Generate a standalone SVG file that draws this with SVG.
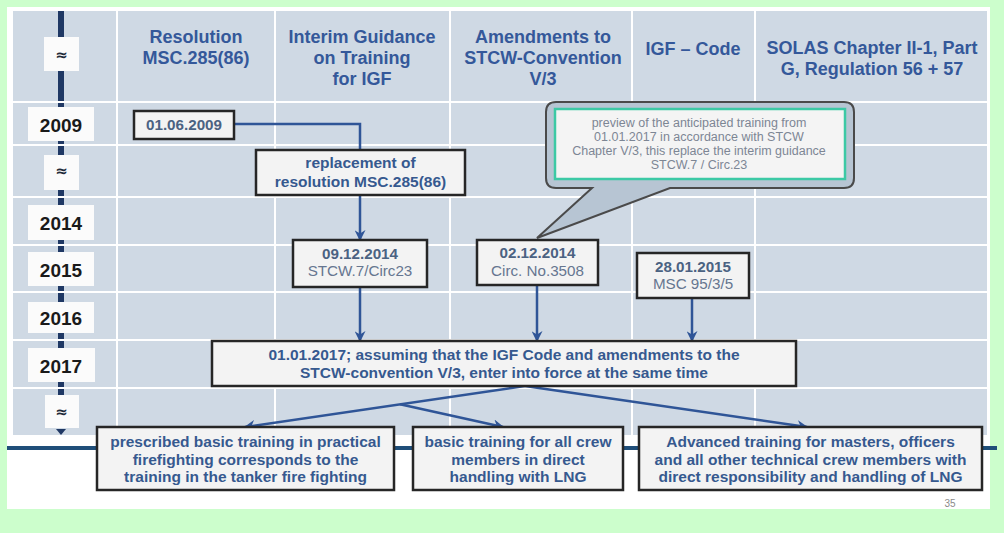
<svg xmlns="http://www.w3.org/2000/svg" width="1004" height="533" viewBox="0 0 1004 533">
<style>
text{font-family:"Liberation Sans",Arial,sans-serif;}
.hd{font-size:18px;font-weight:bold;fill:#34589a;text-anchor:middle;}
.yr{font-size:19px;font-weight:bold;fill:#1a1a1a;text-anchor:middle;}
.ap{font-family:"DejaVu Sans",sans-serif;font-size:15px;font-weight:bold;fill:#1f2a3a;text-anchor:middle;}
.ybox{fill:#fbfbfb;}
.grid{stroke:#ffffff;stroke-width:2;fill:none;}
.box{fill:#f3f3f3;stroke:#262626;stroke-width:2.5;}
.bt{font-size:15.5px;font-weight:bold;fill:#36598f;text-anchor:middle;}
.db{font-size:15.2px;font-weight:bold;fill:#4b6282;text-anchor:middle;}
.dr{font-size:15.2px;fill:#667690;text-anchor:middle;}
.ct{font-size:12.5px;fill:#7d8694;text-anchor:middle;}
.cn{stroke:#2f5597;stroke-width:2.5;fill:none;}
.ar{marker-end:url(#ah);}
</style>
<defs>
<marker id="ah" markerUnits="userSpaceOnUse" viewBox="0 0 10 10" markerWidth="11" markerHeight="11" refX="9" refY="5" orient="auto">
<path d="M0,0 L10,5 L0,10 L3,5 Z" fill="#2f5597"/>
</marker>
</defs>
<rect x="0" y="0" width="1004" height="533" fill="#ccfecc"/>
<rect x="7" y="7" width="983" height="502" fill="#ffffff"/>
<rect x="13" y="11" width="974" height="424" fill="#cfd9e4"/>
<g id="timeline">
<line x1="61" y1="11" x2="61" y2="428" stroke="#1f3864" stroke-width="6"/>
<path d="M56,429 L66,429 L61,435 Z" fill="#1f3864"/>
</g>
<g id="grid">
<line class="grid" x1="13" y1="102" x2="987" y2="102" stroke-width="4"/>
<line class="grid" x1="13" y1="145" x2="987" y2="145"/>
<line class="grid" x1="13" y1="197" x2="987" y2="197"/>
<line class="grid" x1="13" y1="245" x2="987" y2="245"/>
<line class="grid" x1="13" y1="292" x2="987" y2="292"/>
<line class="grid" x1="13" y1="340" x2="987" y2="340"/>
<line class="grid" x1="13" y1="388" x2="987" y2="388"/>
<line class="grid" x1="117" y1="11" x2="117" y2="435"/>
<line class="grid" x1="275" y1="11" x2="275" y2="435"/>
<line class="grid" x1="450" y1="11" x2="450" y2="435"/>
<line class="grid" x1="632" y1="11" x2="632" y2="435"/>
<line class="grid" x1="755" y1="11" x2="755" y2="435"/>
</g>
<g id="years">
<rect class="ybox" x="44" y="37" width="35" height="34"/><text class="ap" x="61.5" y="60">≈</text>
<rect class="ybox" x="28" y="107" width="66" height="34"/><text class="yr" x="61" y="132">2009</text>
<rect class="ybox" x="44" y="155" width="35" height="35"/><text class="ap" x="61.5" y="176">≈</text>
<rect class="ybox" x="28" y="205" width="66" height="35"/><text class="yr" x="61" y="230">2014</text>
<rect class="ybox" x="28" y="252" width="66" height="34"/><text class="yr" x="61" y="277">2015</text>
<rect class="ybox" x="28" y="302" width="66" height="31"/><text class="yr" x="61" y="325">2016</text>
<rect class="ybox" x="28" y="348" width="67" height="34"/><text class="yr" x="61" y="373">2017</text>
<rect class="ybox" x="45" y="395" width="34" height="33"/><text class="ap" x="61.5" y="417">≈</text>
</g>
<g id="headers">
<text class="hd" x="196" y="43">Resolution</text>
<text class="hd" x="196" y="64">MSC.285(86)</text>
<text class="hd" x="362" y="43">Interim Guidance</text>
<text class="hd" x="362" y="64">on Training</text>
<text class="hd" x="362" y="85">for IGF</text>
<text class="hd" x="543" y="43">Amendments to</text>
<text class="hd" x="543" y="64">STCW-Convention</text>
<text class="hd" x="543" y="85">V/3</text>
<text class="hd" x="693" y="55">IGF – Code</text>
<text class="hd" x="872" y="54">SOLAS Chapter II-1, Part</text>
<text class="hd" x="872" y="75">G, Regulation 56 + 57</text>
</g>
<line x1="7" y1="448" x2="997" y2="448" stroke="#1f4e79" stroke-width="4"/>
<g id="connectors">
<path class="cn" d="M234,124 H360 V150"/>
<path class="cn ar" d="M360,195 V240"/>
<path class="cn ar" d="M360,287 V341"/>
<path class="cn ar" d="M537,285 V341"/>
<path class="cn ar" d="M692,298 V341"/>
<path class="cn ar" d="M525,386 L245,427"/>
<path class="cn ar" d="M400,404.3 L503,427"/>
<path class="cn ar" d="M525,386 L807,427"/>
</g>
<g id="callout">
<path d="M556,102 H844 Q854,102 854,112 V178 Q854,188 844,188 H670 L537,238 L592,188 H556 Q546,188 546,178 V112 Q546,102 556,102 Z" fill="#b7c5d3" stroke="#4a4a4a" stroke-width="2"/>
<rect x="555" y="109" width="290" height="70" fill="#f4f4f4" stroke="#3cc9a5" stroke-width="2.5"/>
<text class="ct" x="699" y="127">preview of the anticipated training from</text>
<text class="ct" x="699" y="141">01.01.2017 in accordance with STCW</text>
<text class="ct" x="699" y="155">Chapter V/3, this replace the interim guidance</text>
<text class="ct" x="699" y="169">STCW.7 / Circ.23</text>
</g>
<g id="n2009">
<rect class="box" x="134" y="111" width="100" height="28"/>
<text class="db" x="184" y="130">01.06.2009</text>
</g>
<g id="nreplace">
<rect class="box" x="256" y="150" width="209" height="45"/>
<text class="bt" x="360.5" y="168">replacement of</text>
<text class="bt" x="360.5" y="187">resolution MSC.285(86)</text>
</g>
<g id="n0912">
<rect class="box" x="293" y="240" width="134" height="47"/>
<text class="db" x="360" y="259">09.12.2014</text>
<text class="dr" x="360" y="276">STCW.7/Circ23</text>
</g>
<g id="n0212">
<rect class="box" x="477" y="240" width="121" height="45"/>
<text class="db" x="537.5" y="258">02.12.2014</text>
<text class="dr" x="537.5" y="276">Circ. No.3508</text>
</g>
<g id="n2801">
<rect class="box" x="637" y="253" width="112" height="45"/>
<text class="db" x="693" y="272">28.01.2015</text>
<text class="dr" x="693" y="289">MSC 95/3/5</text>
</g>
<g id="n2017">
<rect class="box" x="212" y="341" width="584" height="45"/>
<text class="bt" x="504" y="360">01.01.2017; assuming that the IGF Code and amendments to the</text>
<text class="bt" x="504" y="378">STCW-convention V/3, enter into force at the same time</text>
</g>
<g id="nfire">
<rect class="box" x="97" y="427" width="297" height="63"/>
<text class="bt" x="245.5" y="447">prescribed basic training in practical</text>
<text class="bt" x="245.5" y="464.5">firefighting corresponds to the</text>
<text class="bt" x="245.5" y="482">training in the tanker fire fighting</text>
</g>
<g id="nbasic">
<rect class="box" x="413" y="427" width="210" height="63"/>
<text class="bt" x="518" y="447">basic training for all crew</text>
<text class="bt" x="518" y="464.5">members in direct</text>
<text class="bt" x="518" y="482">handling with LNG</text>
</g>
<g id="nadvanced">
<rect class="box" x="639" y="427" width="343" height="63"/>
<text class="bt" x="810.5" y="447">Advanced training for masters, officers</text>
<text class="bt" x="810.5" y="464.5">and all other technical crew members with</text>
<text class="bt" x="810.5" y="482">direct responsibility and handling of LNG</text>
</g>
<text x="950" y="507" font-size="10" fill="#8a8a8a" text-anchor="middle">35</text>
</svg>
